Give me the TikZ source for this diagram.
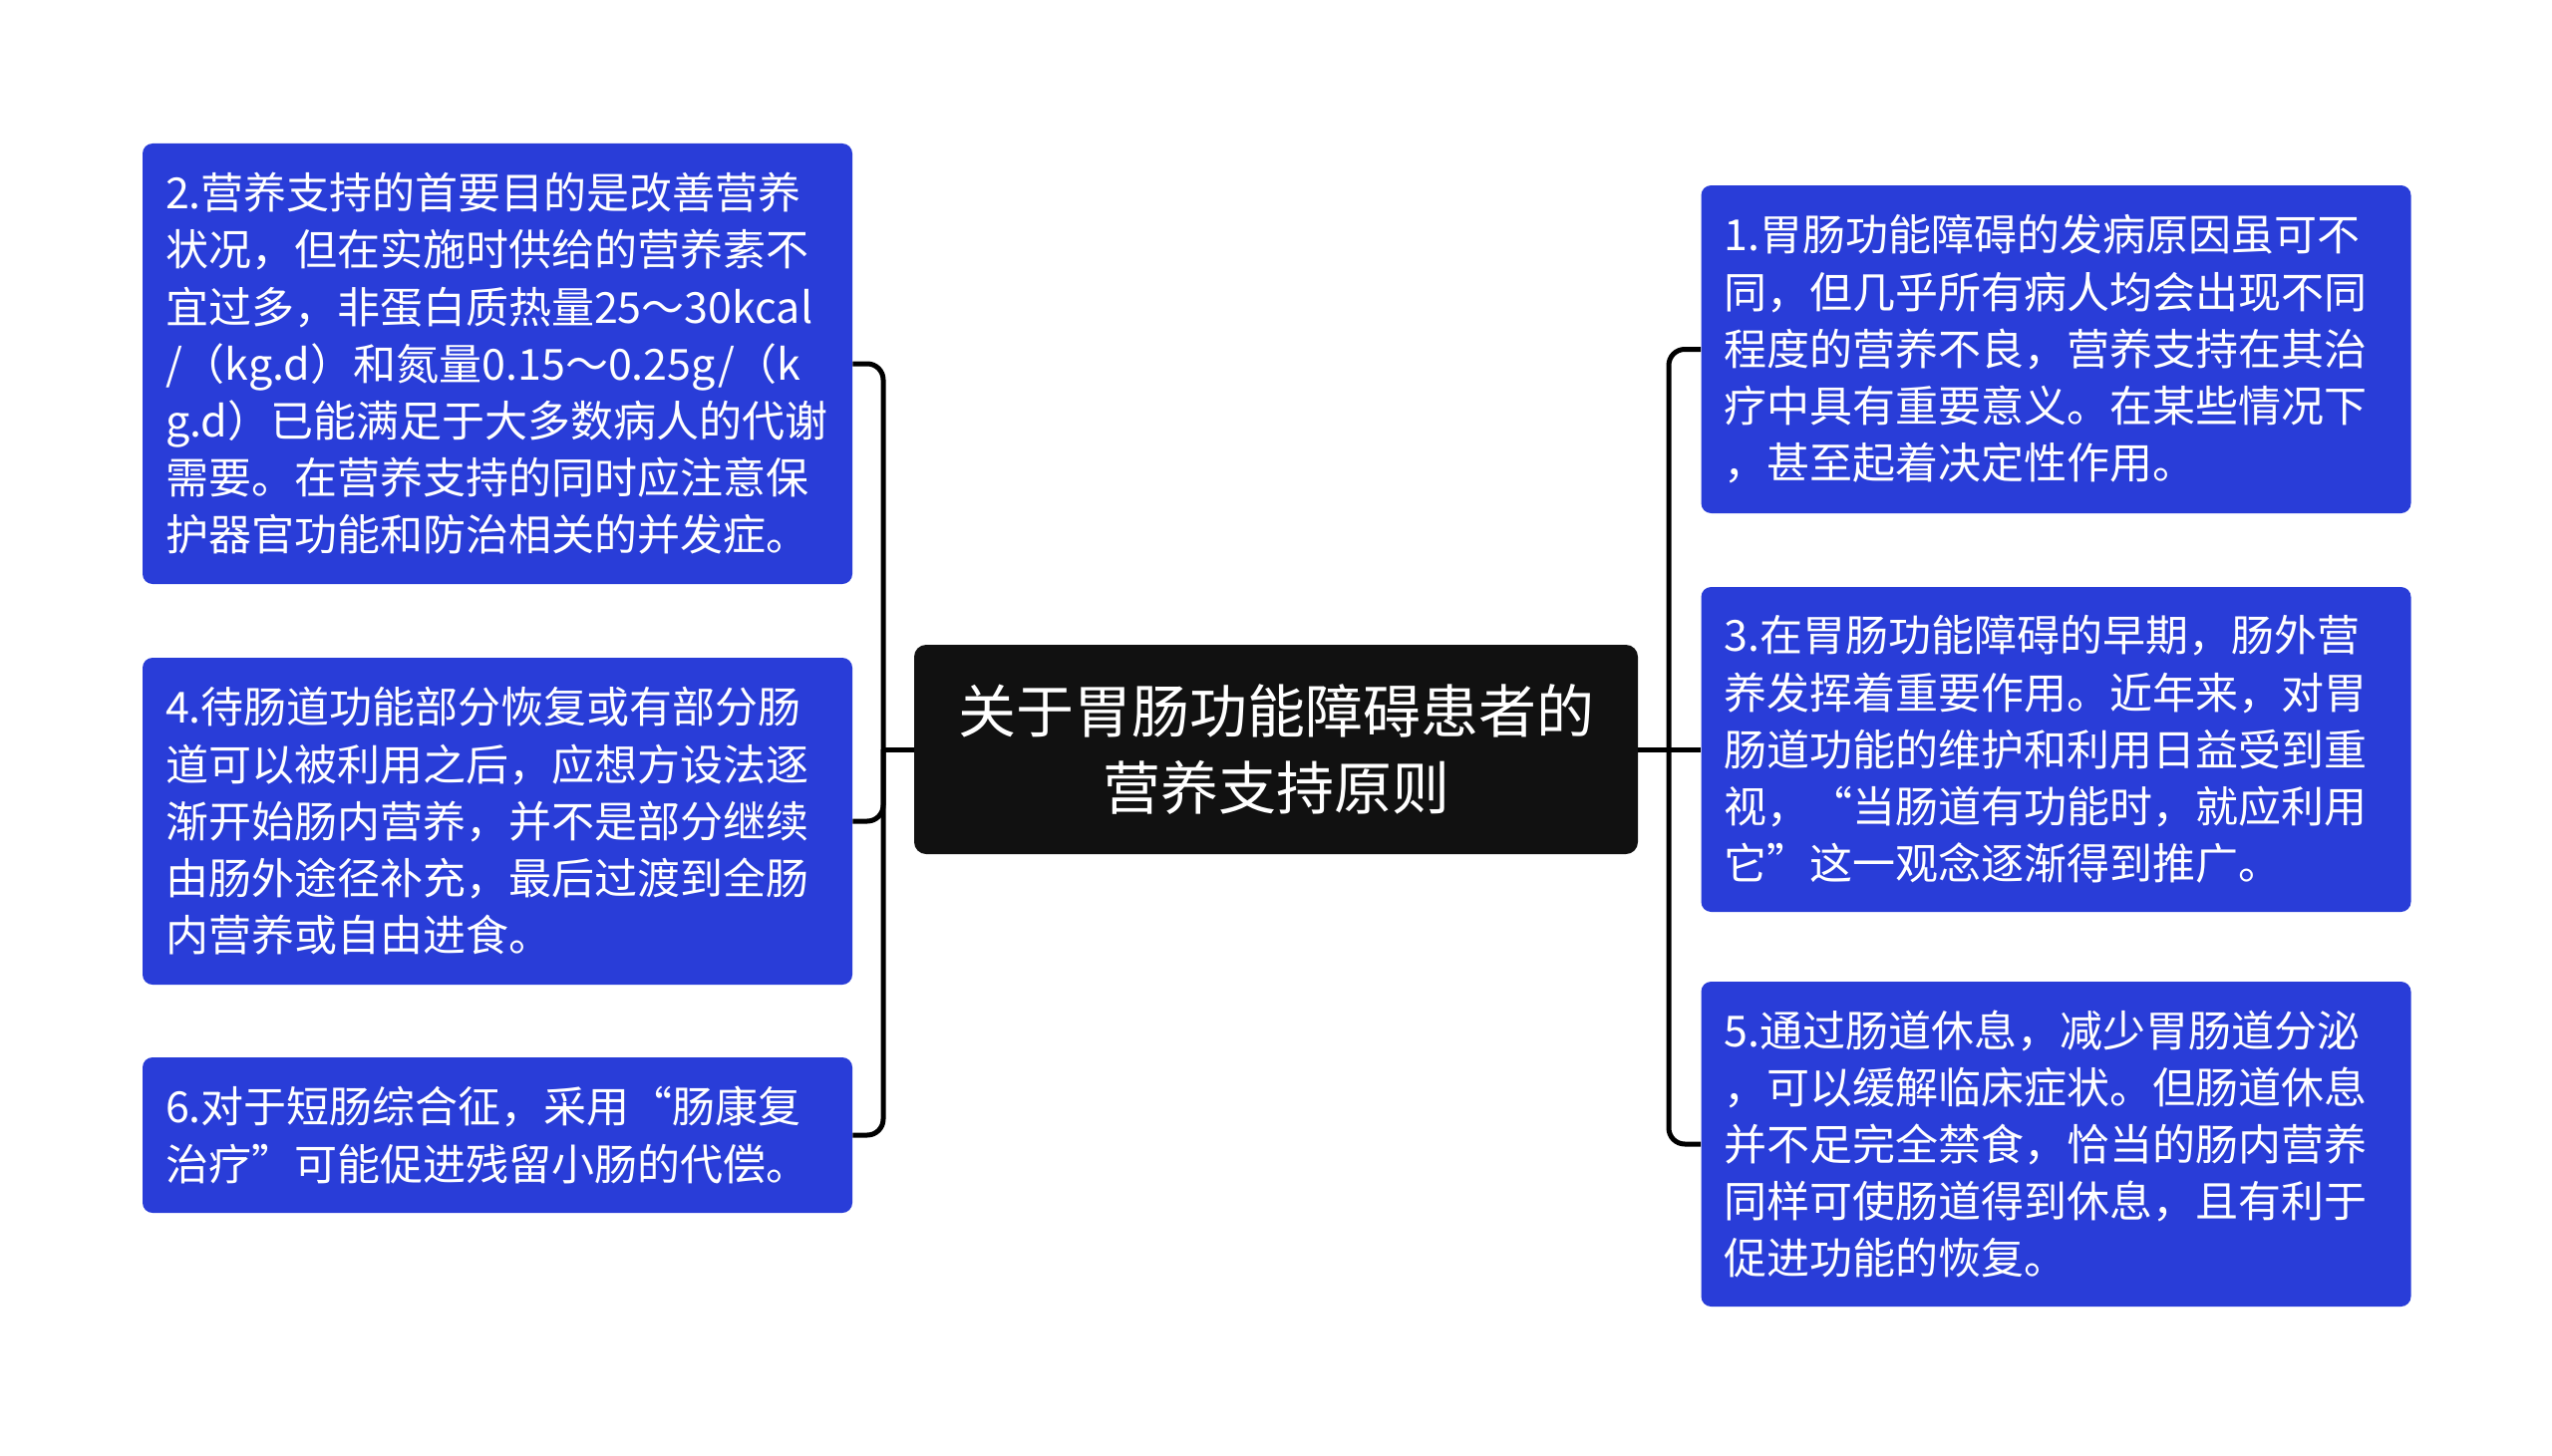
\documentclass[tikz,border=0pt]{standalone}
\usepackage{fontspec}
\setmainfont{Noto Sans CJK SC}
\definecolor{boxblue}{RGB}{41,61,216}
\definecolor{rootblack}{RGB}{17,17,17}
\tikzset{
  leaf/.style={rectangle, rounded corners=5pt, fill=boxblue, text=white, align=left,
    text width=333pt, inner xsep=11.5pt, inner ysep=0pt, minimum width=356pt,
    font=\fontsize{21.5}{28.6}\selectfont},
  rootbox/.style={rectangle, rounded corners=6pt, fill=rootblack, text=white, align=center,
    minimum width=363pt, minimum height=105pt, inner sep=0pt,
    font=\fontsize{29}{38.5}\selectfont},
  link/.style={line width=2.5pt, black, rounded corners=8pt}
}
\begin{document}
\begin{tikzpicture}[x=0.5pt,y=-0.5pt]
\useasboundingbox (0,0) rectangle (2560,1461);
\node[rootbox] (c) at (1280,752) {关于胃肠功能障碍患者的\\营养支持原则};
\node[leaf, minimum height=221pt] (b2) at (499,365) {2.营养支持的首要目的是改善营养\\状况，但在实施时供给的营养素不\\宜过多，非蛋白质热量25～30kcal\\/（kg.d）和氮量0.15～0.25g/（k\\g.d）已能满足于大多数病人的代谢\\需要。在营养支持的同时应注意保\\护器官功能和防治相关的并发症。};
\node[leaf, minimum height=164pt] (b4) at (499,824) {4.待肠道功能部分恢复或有部分肠\\道可以被利用之后，应想方设法逐\\渐开始肠内营养，并不是部分继续\\由肠外途径补充，最后过渡到全肠\\内营养或自由进食。};
\node[leaf, minimum height=78pt] (b6) at (499,1139) {6.对于短肠综合征，采用“肠康复\\治疗”可能促进残留小肠的代偿。};
\node[leaf, minimum height=164.5pt] (b1) at (2062.5,350.5) {1.胃肠功能障碍的发病原因虽可不\\同，但几乎所有病人均会出现不同\\程度的营养不良，营养支持在其治\\疗中具有重要意义。在某些情况下\\，甚至起着决定性作用。};
\node[leaf, minimum height=163pt] (b3) at (2062.5,752) {3.在胃肠功能障碍的早期，肠外营\\养发挥着重要作用。近年来，对胃\\肠道功能的维护和利用日益受到重\\视，“当肠道有功能时，就应利用\\它”这一观念逐渐得到推广。};
\node[leaf, minimum height=163pt] (b5) at (2062.5,1148) {5.通过肠道休息，减少胃肠道分泌\\，可以缓解临床症状。但肠道休息\\并不足完全禁食，恰当的肠内营养\\同样可使肠道得到休息，且有利于\\促进功能的恢复。};
\coordinate (jl) at (886,752);
\coordinate (jr) at (1674,752);
\draw[link] (c.west) -- (jl);
\draw[link] (jl) |- (b2.east);
\draw[link] (jl) |- (b4.east);
\draw[link] (jl) |- (b6.east);
\draw[link] (c.east) -- (jr);
\draw[link] (jr) |- (b1.west);
\draw[link] (jr) -- (b3.west);
\draw[link] (jr) |- (b5.west);
\end{tikzpicture}
\end{document}
